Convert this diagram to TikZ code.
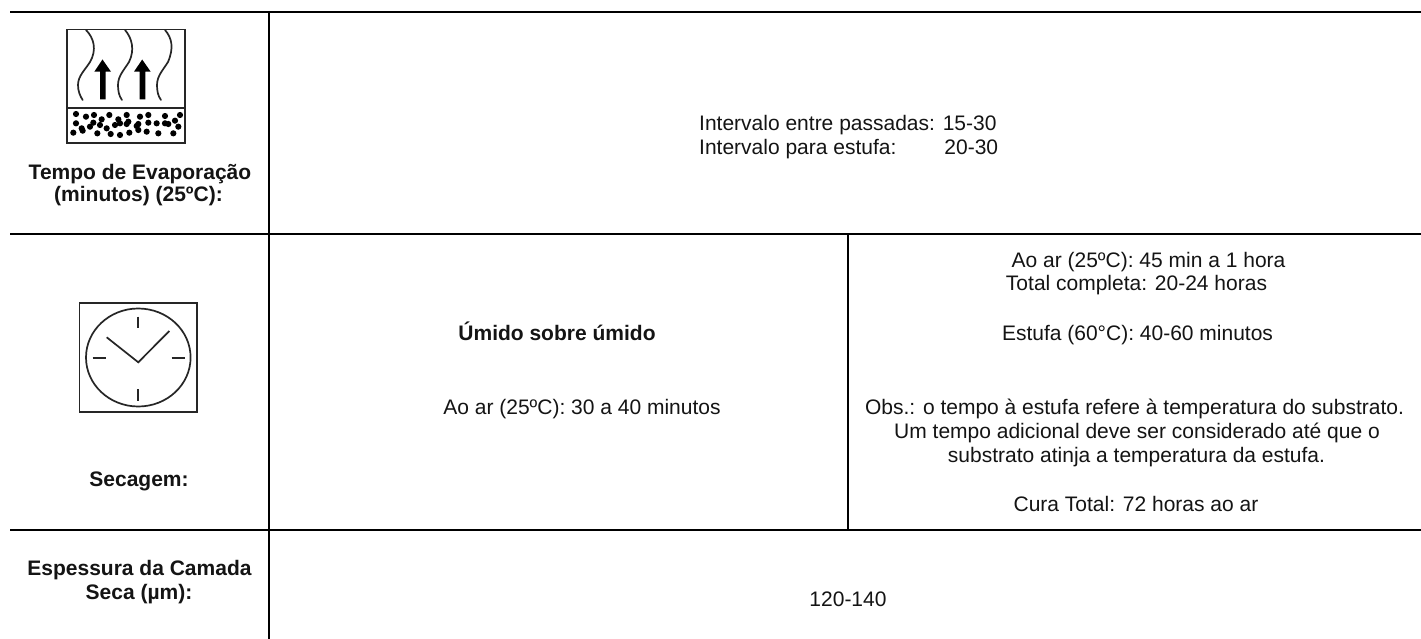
\documentclass[tikz,border=0pt]{standalone}
\usepackage{fontspec}
\setmainfont{Liberation Sans}
\tikzset{
 rule/.style={line width=2pt,black},
 txt/.style={inner sep=0pt,anchor=base,font=\fontsize{21}{24.4}\selectfont,text=black!92},
 btxt/.style={txt,font=\fontsize{21}{24.4}\selectfont\bfseries},
 icon/.style={line width=1.7pt,draw=black!85},
 wave/.style={line width=1.7pt,draw=black!85,line cap=round}
}
\begin{document}
\begin{tikzpicture}[x=1pt,y=-1pt]
\useasboundingbox (0,0) rectangle (1421,639);
\fill[white] (0,0) rectangle (1421,639);
% rules
\coordinate (tl) at (10,12); \coordinate (tr) at (1421,12);
\coordinate (ml) at (10,234); \coordinate (mr) at (1421,234);
\coordinate (bl) at (10,530); \coordinate (br) at (1421,530);
\coordinate (vt) at (268.8,11); \coordinate (vb) at (268.8,639);
\coordinate (wt) at (848.3,234); \coordinate (wb) at (848.3,530);
\draw[rule] (tl)--(tr);
\draw[rule] (ml)--(mr);
\draw[rule] (bl)--(br);
\draw[rule] (vt)--(vb);
\draw[rule] (wt)--(wb);
% evaporation icon
\draw[icon] (67,29.5) rectangle (185,143);
\draw[icon] (67,108)--(185,108);
\draw[wave] (86,30) .. controls (94,38) and (97,50) .. (90,62) .. controls (85,70) and (78,76) .. (78,85) .. controls (78,91) and (80,96) .. (82.7,100);
\draw[wave] (125,30) .. controls (132,38) and (135,50) .. (129,62) .. controls (124,70) and (118,76) .. (118,85) .. controls (118,91) and (119,96) .. (122,100);
\draw[wave] (165,30) .. controls (172,38) and (174,48) .. (168,62) .. controls (163,70) and (157,76) .. (157,85) .. controls (157,91) and (158,96) .. (161,100);
\foreach \dx in {0,39.7}{
 \fill[black,shift={(\dx,0)}] (102.5,59.5) -- (111,71.7) -- (105.7,71.7) -- (105.7,99.5) -- (100,99.5) -- (100,71.7) -- (94.3,71.7) -- cycle;
}
\foreach \px/\py in {228/342,258/350,282/345,328/345,380/345,420/350,445/345,495/348,540/345,355/358,305/358,385/365,228/370,280/368,245/385,270/380,300/375,320/385,345/375,360/370,380/372,415/372,445/368,470/370,495/370,525/362,535/380,220/398,248/392,292/400,332/402,360/405,388/398,415/390,440/395,475/400,520/400,410/378,505/372}{
 \fill[black] ({\px/3},{\py/3}) circle (3.1pt);
}
% clock icon
\draw[icon] (79.5,303) rectangle (196.7,412);
\draw[icon] (138.3,357.5) ellipse (52.3pt and 49pt);
\draw[icon] (138.3,316.7)--(138.3,328);
\draw[icon] (138.3,389)--(138.3,401);
\draw[icon] (92.7,357.7)--(106,357.7);
\draw[icon] (171.7,357.7)--(185,357.7);
\draw[icon] (106.7,337.3)--(138.3,362.3)--(169.3,331);
% texts
\node[btxt] (t1a) at (140,180) {Tempo de Evaporação};
\node[btxt] (t1b) at (138.5,202) {(minutos) (25ºC):};
\node[btxt] (t2) at (139,486.7) {Secagem:};
\node[btxt] (t3a) at (139.5,575) {Espessura da Camada};
\node[btxt] (t3b) at (139,599.3) {Seca (µm):};
\node[txt,anchor=base west] (a1) at (699,130.7) {Intervalo entre passadas: 15-30};
\node[txt,anchor=base west] (a2) at (699,154.5) {Intervalo para estufa:\hspace{48pt}20-30};
\node[btxt] (b1) at (557,340.7) {Úmido sobre úmido};
\node[txt] (b2) at (582,414.3) {Ao ar (25ºC): 30 a 40 minutos};
\node[txt] (c1) at (1148.5,267.3) {Ao ar (25ºC): 45 min a 1 hora};
\node[txt] (c1b) at (1136.5,290.7) {Total completa: 20-24 horas};
\node[txt] (c2) at (1137.5,340) {Estufa (60°C): 40-60 minutos};
\node[txt] (c3a) at (1134.5,414) {Obs.: o tempo à estufa refere à temperatura do substrato.};
\node[txt] (c3b) at (1137,438.4) {Um tempo adicional deve ser considerado até que o};
\node[txt] (c3c) at (1136.5,462.8) {substrato atinja a temperatura da estufa.};
\node[txt] (c4) at (1136,511.7) {Cura Total: 72 horas ao ar};
\node[txt] (d1) at (848,606) {120-140};
\end{tikzpicture}
\end{document}
